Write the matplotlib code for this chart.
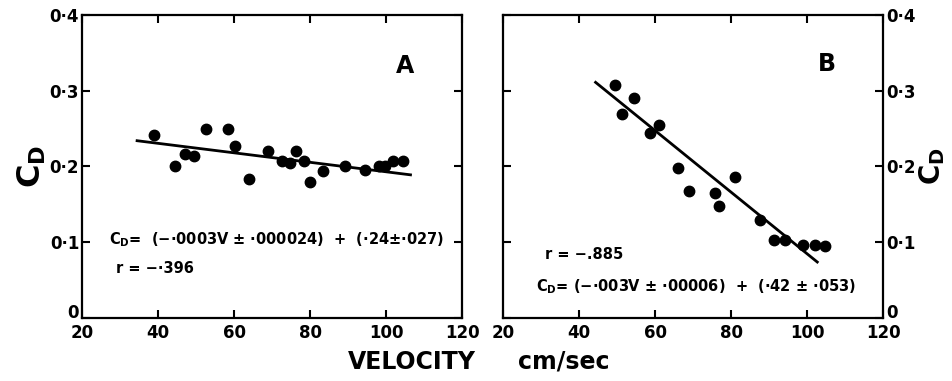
import numpy as np
import matplotlib.pyplot as plt

# panel A data (velocity cm/sec, drag coefficient)
va = [38.9, 44.6, 47.1, 49.4, 52.6, 58.4, 60.3, 63.9, 69.0, 72.5, 74.6,
      76.2, 78.4, 80.1, 83.3, 89.2, 94.4, 98.0, 99.7, 101.9, 104.5]
cda = [0.241, 0.200, 0.216, 0.214, 0.250, 0.250, 0.227, 0.183, 0.221, 0.207, 0.205,
       0.221, 0.207, 0.179, 0.194, 0.200, 0.195, 0.200, 0.200, 0.207, 0.207]
fit_a_x = [34.5, 106.4]
fit_a_y = [0.234, 0.189]

# panel B data
vb = [49.5, 51.2, 54.3, 58.5, 61.0, 66.1, 68.9, 75.8, 76.8, 81.0,
      87.6, 91.1, 94.1, 98.9, 102.0, 104.7]
cdb = [0.307, 0.269, 0.291, 0.244, 0.255, 0.198, 0.168, 0.165, 0.148, 0.186,
       0.129, 0.103, 0.103, 0.097, 0.097, 0.095]
fit_b_x = [44.3, 102.6]
fit_b_y = [0.311, 0.074]

xticks = [20, 40, 60, 80, 100, 120]
yticks = [0, 0.1, 0.2, 0.3, 0.4]
ytick_labels = ['0', '0·1', '0·2', '0·3', '0·4']

plt.rcParams['font.family'] = 'DejaVu Sans'
plt.rcParams['font.weight'] = 'bold'

fig = plt.figure(figsize=(9.53, 3.81), dpi=100)
axA = fig.add_axes([0.086, 0.165, 0.399, 0.796])
axB = fig.add_axes([0.528, 0.165, 0.399, 0.796])

def style(ax, right=False):
    ax.set_xlim(20, 120)
    ax.set_ylim(0, 0.4)
    ax.set_xticks(xticks)
    ax.set_xticklabels([str(t) for t in xticks], fontsize=12, fontweight='bold')
    ax.set_yticks(yticks)
    ax.set_yticklabels(ytick_labels, fontsize=12, fontweight='bold')
    ax.tick_params(direction='in', length=6, width=1.5, top=True, right=True,
                   left=True, bottom=True)
    ax.tick_params(axis='x', pad=4)
    ax.tick_params(axis='y', pad=2)
    if right:
        ax.yaxis.tick_right()
        ax.tick_params(axis='y', left=True, direction='in')
    # the "0" label sits on the bottom spine
    ax.get_yticklabels()[0].set_va('baseline')
    for s in ax.spines.values():
        s.set_linewidth(1.6)

style(axA)
style(axB, right=True)

axA.plot(va, cda, 'o', color='black', ms=7.5)
axA.plot(fit_a_x, fit_a_y, '-', color='black', lw=2)
axB.plot(vb, cdb, 'o', color='black', ms=7.5)
axB.plot(fit_b_x, fit_b_y, '-', color='black', lw=2)

axA.text(105, 0.333, 'A', fontsize=17, fontweight='bold', ha='center', va='center')
axB.text(105.2, 0.335, 'B', fontsize=17, fontweight='bold', ha='center', va='center')

axA.text(27.2, 0.103, r'$\mathbf{C_D}$' + '=  (−·0003V ± ·000024)  +  (·24±·027)',
         fontsize=10.5, fontweight='bold', va='center')
axA.text(29.0, 0.066, 'r = −·396', fontsize=10.5, fontweight='bold', va='center')
axB.text(28.5, 0.042, r'$\mathbf{C_D}$' + '= (−·003V ± ·00006)  +  (·42 ± ·053)',
         fontsize=10.5, fontweight='bold', va='center')
axB.text(31.0, 0.084, 'r = −.885', fontsize=10.5, fontweight='bold', va='center')

axA.set_ylabel(r'$\mathbf{C_D}$', fontsize=23, labelpad=1)
axB.yaxis.set_label_position('right')
axB.set_ylabel(r'$\mathbf{C_D}$', fontsize=20, labelpad=1, rotation=90)

fig.text(0.432, 0.05, 'VELOCITY', fontsize=17, fontweight='bold', ha='center', va='center')
fig.text(0.592, 0.05, 'cm/sec', fontsize=17, fontweight='bold', ha='center', va='center')

fig.savefig('out.png', dpi=100)
